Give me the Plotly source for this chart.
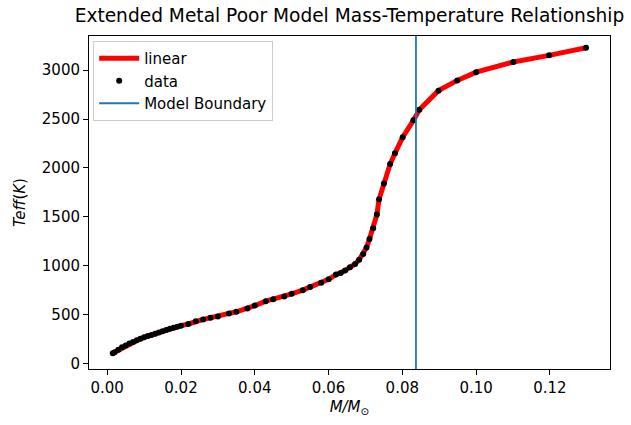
import plotly.graph_objects as go

# Stellar/substellar mass (solar units) and effective temperature (K)
mass = [0.0015, 0.002, 0.003, 0.004, 0.005, 0.006, 0.007, 0.008, 0.009, 0.010,
        0.011, 0.012, 0.013, 0.014, 0.015, 0.016, 0.017, 0.018, 0.019, 0.020,
        0.022, 0.024, 0.026, 0.028, 0.030, 0.033, 0.035, 0.038, 0.040, 0.043,
        0.045, 0.048, 0.050, 0.053, 0.055, 0.058, 0.060, 0.062, 0.0633, 0.0645,
        0.0658, 0.0672, 0.0683, 0.0694, 0.0703, 0.0711, 0.0721, 0.0731, 0.0737,
        0.0750, 0.0767, 0.0780, 0.0801, 0.0830, 0.0846, 0.0898, 0.0949, 0.1000,
        0.1101, 0.1198, 0.1298]
teff = [105, 115, 140, 165, 185, 205, 220, 237, 252, 267,
        280, 292, 305, 317, 330, 342, 354, 365, 376, 387,
        404, 431, 451, 468, 481, 512, 529, 562, 592, 637,
        656, 684, 712, 750, 782, 827, 861, 909, 926, 950,
        984, 1017, 1061, 1119, 1186, 1273, 1382, 1523, 1680,
        1840, 2040, 2150, 2315, 2487, 2595, 2791, 2896, 2980,
        3084, 3152, 3230]

model_boundary = 0.0837
x_range = [-0.00494, 0.1363]
y_range = [-56.6, 3350]
x_ticks = [0.00, 0.02, 0.04, 0.06, 0.08, 0.10, 0.12]
y_ticks = [0, 500, 1000, 1500, 2000, 2500, 3000]

font = "DejaVu Sans"
label_size = 15

fig = go.Figure()
fig.add_trace(go.Scatter(x=mass, y=teff, mode="lines", name="linear",
                         line=dict(color="red", width=5)))
fig.add_trace(go.Scatter(x=mass, y=teff, mode="markers", name="data",
                         marker=dict(color="black", size=6)))
fig.add_trace(go.Scatter(x=[model_boundary, model_boundary], y=y_range,
                         mode="lines", name="Model Boundary",
                         line=dict(color="#1f77b4", width=1.8)))

axis_common = dict(showline=True, mirror=True, linecolor="black", linewidth=1,
                   ticks="outside", ticklen=5, tickcolor="black", tickwidth=1,
                   showgrid=False, zeroline=False,
                   tickfont=dict(family=font, size=label_size, color="black"))

fig.update_layout(
    width=631, height=425,
    margin=dict(l=89, r=21, t=36, b=53),
    paper_bgcolor="white", plot_bgcolor="white",
    title=dict(text="Extended Metal Poor Model Mass-Temperature Relationship",
               x=0.5, xref="paper", y=1 - 15 / 425, yref="container",
               xanchor="center", yanchor="middle",
               font=dict(family=font, size=18.6, color="black")),
    xaxis=dict(range=x_range, tickvals=x_ticks,
               ticktext=[f"{v:.2f}" for v in x_ticks],
               title=dict(text="<i>M/M</i><sub>⊙</sub>", standoff=5,
                          font=dict(family=font, size=label_size, color="black")),
               **axis_common),
    yaxis=dict(range=y_range, tickvals=y_ticks,
               title=dict(text="<i>Teff</i>(<i>K</i>)", standoff=12,
                          font=dict(family=font, size=label_size, color="black")),
               **axis_common),
    legend=dict(x=0.008, y=0.985, xanchor="left", yanchor="top",
                bgcolor="rgba(255,255,255,0.8)", bordercolor="#cccccc",
                borderwidth=1, font=dict(family=font, size=label_size, color="black"),
                tracegroupgap=0, itemwidth=40),
    showlegend=True,
)

fig.write_html("out.html")
